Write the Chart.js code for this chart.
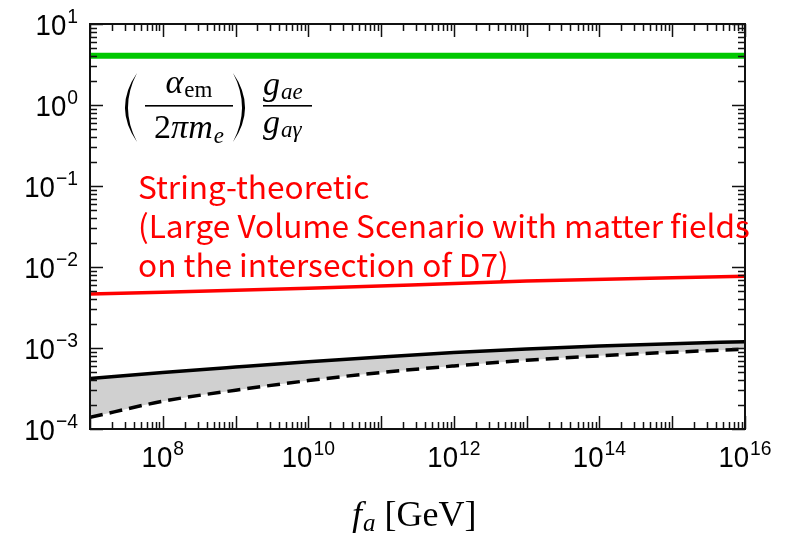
<!DOCTYPE html>
<html>
<head>
<meta charset="utf-8">
<script src="https://cdn.jsdelivr.net/npm/chart.js@4/dist/chart.umd.min.js"></script>
<style>
  html, body { margin: 0; padding: 0; background: #fff; }
  #wrap { width: 788px; height: 533px; }
</style>
</head>
<body>
<div id="wrap"><canvas id="chart" width="788" height="533"></canvas></div>
<script>
// f_a in GeV, one sample per decade
var faGrid = [1e7, 1e8, 1e9, 1e10, 1e11, 1e12, 1e13, 1e14, 1e15, 1e16];
var upperBand = [4.2e-4, 4.97e-4, 5.81e-4, 6.76e-4, 7.76e-4, 8.77e-4, 9.73e-4, 1.057e-3, 1.13e-3, 1.197e-3];
var lowerBand = [1.39e-4, 2.2e-4, 3.01e-4, 3.96e-4, 4.99e-4, 6.0e-4, 7.05e-4, 8.0e-4, 8.87e-4, 9.64e-4];
// string-theoretic (LVS) estimate
var stringFa = [1e7, 1e10, 1e13, 1e16];
var stringVals = [4.65e-3, 5.45e-3, 6.7e-3, 7.7e-3];
// constant ratio line
var flatFa = [1e7, 1e16];
var flatVals = [4.06, 4.06];
// labelled decades
var xTickExps = [8, 10, 12, 14, 16];
var yTickExps = [1, 0, -1, -2, -3, -4];
var noteLines = ['String-theoretic', '(Large Volume Scenario with matter fields', 'on the intersection of D7)'];

var SERIF = '"Liberation Serif", "Times New Roman", serif';
var SANS = '"Liberation Sans", Arial, sans-serif';

function pts(xs, ys) {
  return xs.map(function (x, i) { return { x: x, y: ys[i] }; });
}

function powLabel(c, exp, x, y, align) {
  var base = '10', sup = exp < 0 ? '\u2212' + (-exp) : String(exp);
  var sx = 0.92;
  c.font = '30px ' + SANS;
  var wb = c.measureText(base).width * sx;
  c.font = '21px ' + SANS;
  var ws = c.measureText(sup).width * sx;
  var w = wb + 1 + ws;
  var left = align === 'right' ? x - w : x - w / 2;
  c.save();
  c.translate(left, y + 11);
  c.scale(sx, 1);
  c.font = '30px ' + SANS;
  c.fillText(base, 0, 0);
  c.restore();
  c.save();
  c.translate(left + wb + 1, y - 1);
  c.scale(sx, 1);
  c.font = '21px ' + SANS;
  c.fillText(sup, 0, 0);
  c.restore();
}

// draws a run of [text, font, dy] pieces left to right, returns end x
function run(c, pieces, x, y, measureOnly) {
  pieces.forEach(function (p) {
    c.font = p[1];
    if (!measureOnly) c.fillText(p[0], x, y + (p[2] || 0));
    x += c.measureText(p[0]).width + (p[3] || 0);
  });
  return x;
}

function runCentered(c, pieces, cx, y) {
  var w = run(c, pieces, 0, 0, true);
  run(c, pieces, cx - w / 2, y);
}

// tall tapered parenthesis; dir -1 bulges left, +1 bulges right
function paren(c, x, top, bottom, dir) {
  var mid = (top + bottom) / 2;
  c.beginPath();
  c.moveTo(x, top);
  c.quadraticCurveTo(x + dir * 24, mid, x, bottom);
  c.quadraticCurveTo(x + dir * 18, mid, x, top);
  c.fill();
}

var framePlugin = {
  id: 'frame',
  afterDraw: function (chart) {
    var c = chart.ctx, a = chart.chartArea;
    var xs = chart.scales.x, ys = chart.scales.y;
    c.save();
    c.strokeStyle = '#111';
    c.lineWidth = 2;
    c.strokeRect(a.left, a.top, a.right - a.left, a.bottom - a.top);

    c.lineWidth = 1.5;
    c.beginPath();
    var e, k, v, p, len;
    for (e = 7; e <= 16; e++) {
      for (k = 1; k <= 9; k++) {
        v = k * Math.pow(10, e);
        if (v > 1.0001e16) continue;
        p = Math.round(xs.getPixelForValue(v)) + 0.5;
        len = k === 1 ? 13 : 7;
        c.moveTo(p, a.bottom); c.lineTo(p, a.bottom - len);
        c.moveTo(p, a.top); c.lineTo(p, a.top + len);
      }
    }
    for (e = -4; e <= 1; e++) {
      for (k = 1; k <= 9; k++) {
        v = k * Math.pow(10, e);
        if (v > 10.0001) continue;
        p = Math.round(ys.getPixelForValue(v)) + 0.5;
        len = k === 1 ? 13 : 7;
        c.moveTo(a.left, p); c.lineTo(a.left + len, p);
        c.moveTo(a.right, p); c.lineTo(a.right - len, p);
      }
    }
    c.stroke();

    // tick labels
    c.fillStyle = '#000';
    c.textBaseline = 'alphabetic';
    c.textAlign = 'left';
    xTickExps.forEach(function (n) {
      powLabel(c, n, xs.getPixelForValue(Math.pow(10, n)), a.bottom + 27, 'center');
    });
    yTickExps.forEach(function (n) {
      powLabel(c, n, a.left - 12, ys.getPixelForValue(Math.pow(10, n)), 'right');
    });

    // axis title: f_a [GeV]
    run(c, [
      ['f', 'italic 36px ' + SERIF, 0, 1],
      ['a', 'italic 25px ' + SERIF, 5, 9],
      ['[GeV]', '36px ' + SERIF, 0]
    ], 352, 526);

    // ratio formula
    var big = 'italic 34px ' + SERIF, up = '34px ' + SERIF;
    var subI = 'italic 23px ' + SERIF, subR = '23px ' + SERIF;
    paren(c, 137, 73, 142, -1);
    paren(c, 233, 73, 142, 1);
    c.fillRect(145, 105, 88, 1.6);
    runCentered(c, [['\u03b1', big, 0, 1], ['em', subR, 4]], 189, 93);
    runCentered(c, [['2', up, 0], ['\u03c0', big, 0], ['m', big, 0, 1], ['e', subI, 5]], 189, 138);
    c.fillRect(263, 105, 49, 1.6);
    run(c, [['g', big, 0, 1], ['ae', subI, 4]], 263, 95);
    run(c, [['g', big, 0, 1], ['a\u03b3', subI, 4]], 263, 133);

    // red annotation
    c.fillStyle = '#ff0000';
    var size = 26;
    c.font = size + 'px "Noto Sans CJK KR", "Noto Sans", sans-serif';
    size = size * 612 / c.measureText(noteLines[1]).width;
    c.font = size.toFixed(2) + 'px "Noto Sans CJK KR", "Noto Sans", sans-serif';
    noteLines.forEach(function (s, i) {
      c.fillText(s, 138, 199 + i * 39);
    });
    c.restore();
  }
};

var ctx = document.getElementById('chart').getContext('2d');
new Chart(ctx, {
  type: 'line',
  data: {
    datasets: [
      {
        label: 'flat',
        data: pts(flatFa, flatVals),
        borderColor: '#00c800',
        borderWidth: 6,
        pointRadius: 0,
        fill: false,
        order: 0
      },
      {
        label: 'string',
        data: pts(stringFa, stringVals),
        borderColor: '#ff0000',
        borderWidth: 3.5,
        pointRadius: 0,
        cubicInterpolationMode: 'monotone',
        fill: false,
        order: 0
      },
      {
        label: 'upper',
        data: pts(faGrid, upperBand),
        borderColor: '#000',
        borderWidth: 3.5,
        pointRadius: 0,
        cubicInterpolationMode: 'monotone',
        backgroundColor: '#d0d0d0',
        fill: '+1',
        order: 1
      },
      {
        label: 'lower',
        data: pts(faGrid, lowerBand),
        borderColor: '#000',
        borderWidth: 3.5,
        borderDash: [13, 7],
        pointRadius: 0,
        cubicInterpolationMode: 'monotone',
        fill: false,
        order: 1
      }
    ]
  },
  options: {
    responsive: false,
    animation: false,
    layout: { padding: { left: 90, top: 24, right: 43, bottom: 104 } },
    plugins: {
      legend: { display: false },
      tooltip: { enabled: false },
      filler: { drawTime: 'beforeDatasetsDraw' }
    },
    scales: {
      x: { type: 'logarithmic', min: 1e7, max: 1e16, display: false },
      y: { type: 'logarithmic', min: 1e-4, max: 10, display: false }
    }
  },
  plugins: [framePlugin]
});
</script>
</body>
</html>
